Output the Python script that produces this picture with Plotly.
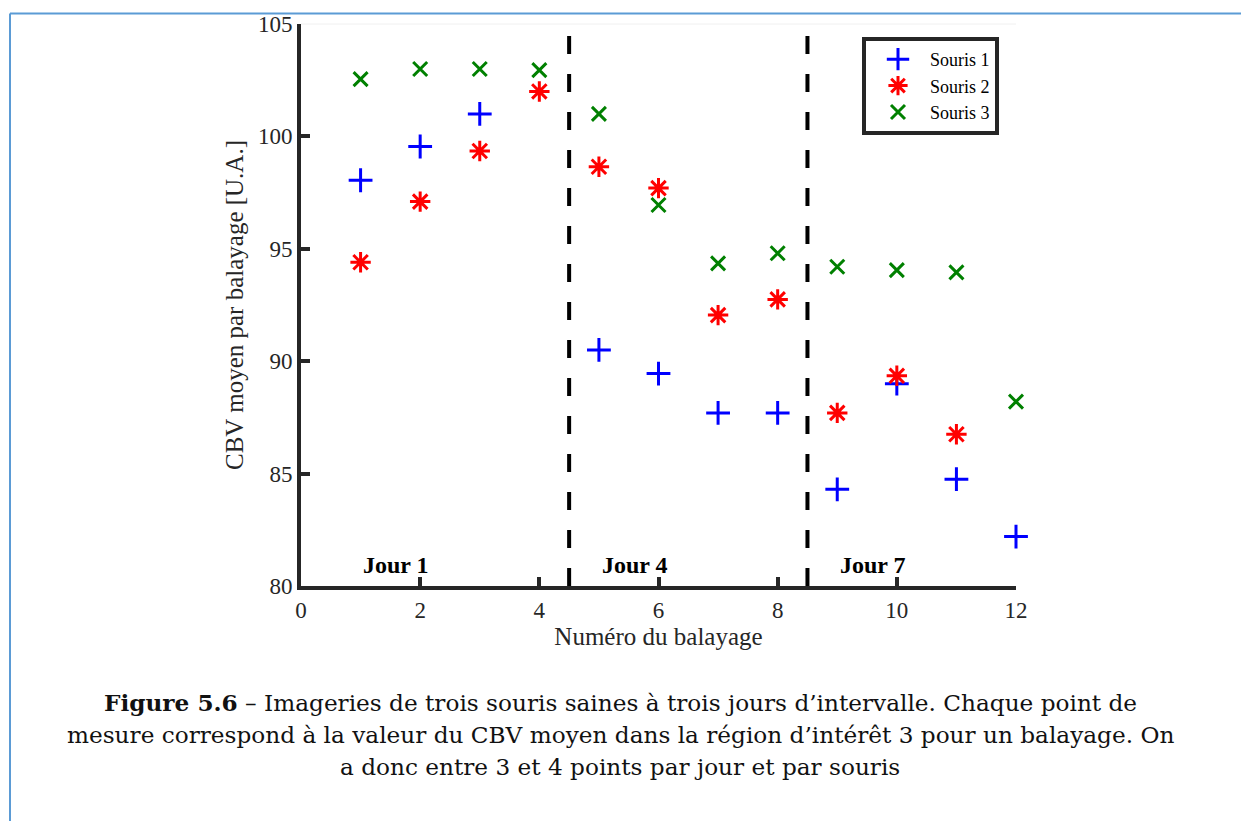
import plotly.graph_objects as go

# Scan numbers (balayages) and mean CBV per mouse
scans_1 = [1, 2, 3, 5, 6, 7, 8, 9, 10, 11, 12]
cbv_1 = [98.05, 99.55, 101.0, 90.5, 89.45, 87.7, 87.7, 84.3, 89.0, 84.75, 82.2]

scans_2 = [1, 2, 3, 4, 5, 6, 7, 8, 9, 10, 11]
cbv_2 = [94.4, 97.1, 99.35, 102.0, 98.65, 97.7, 92.05, 92.75, 87.7, 89.35, 86.75]

scans_3 = [1, 2, 3, 4, 5, 6, 7, 8, 9, 10, 11, 12]
cbv_3 = [102.55, 103.0, 103.0, 102.95, 101.0, 96.95, 94.35, 94.8, 94.2, 94.05, 93.95, 88.2]

day_bounds = [4.5, 8.5]
day_labels = ["Jour 1", "Jour 4", "Jour 7"]
day_label_x = [1.6, 5.6, 9.6]

x_ticks = [0, 2, 4, 6, 8, 10, 12]
y_ticks = [80, 85, 90, 95, 100, 105]

caption_lines = [
    "<b>Figure 5.6</b> – Imageries de trois souris saines à trois jours d’intervalle. Chaque point de",
    "mesure correspond à la valeur du CBV moyen dans la région d’intérêt 3 pour un balayage. On",
    "a donc entre 3 et 4 points par jour et par souris",
]

W, H = 1241, 821
L, R, T, B = 301, 1016, 22, 586  # plot area in pixels


def px(xp):
    return (xp - L) / (R - L)


def py(yp):
    return (B - yp) / (B - T)


serif = "Liberation Serif"
axis_col = "#262626"

fig = go.Figure()
fig.add_trace(go.Scatter(
    x=scans_1, y=cbv_1, mode="markers", name="Souris 1", cliponaxis=False,
    marker=dict(symbol="cross-thin", size=17, color="blue",
                line=dict(color="blue", width=3)),
))
fig.add_trace(go.Scatter(
    x=scans_2, y=cbv_2, mode="markers", name="Souris 2", cliponaxis=False,
    marker=dict(symbol="asterisk", size=17, color="red",
                line=dict(color="red", width=3)),
))
fig.add_trace(go.Scatter(
    x=scans_3, y=cbv_3, mode="markers", name="Souris 3", cliponaxis=False,
    marker=dict(symbol="x-thin", size=14, color="green",
                line=dict(color="green", width=3)),
))

shapes = []
for xb in day_bounds:
    shapes.append(dict(type="line", xref="x", yref="y", x0=xb, x1=xb, y0=80, y1=105,
                       line=dict(color="black", width=4, dash="18px,20px")))
# faint top edge of the axes box
shapes.append(dict(type="line", xref="paper", yref="paper", x0=0, x1=1, y0=1, y1=1,
                   line=dict(color="#f0f0f0", width=1), layer="below"))
# page frame
shapes.append(dict(type="line", xref="paper", yref="paper",
                   x0=px(10), x1=px(1260), y0=py(11.5), y1=py(11.5),
                   line=dict(color="#5b9bd5", width=2)))
shapes.append(dict(type="line", xref="paper", yref="paper",
                   x0=px(10), x1=px(10), y0=py(11.5), y1=py(840),
                   line=dict(color="#5b9bd5", width=2)))

annotations = []
for lab, xl in zip(day_labels, day_label_x):
    annotations.append(dict(x=xl, y=80.95, xref="x", yref="y", text=f"<b>{lab}</b>",
                            showarrow=False, font=dict(family=serif, size=24, color="black")))
for i, line in enumerate(caption_lines):
    annotations.append(dict(x=px(620), y=py(703 + 32 * i), xref="paper", yref="paper",
                            text=line, showarrow=False, xanchor="center", yanchor="middle",
                            font=dict(family="DejaVu Serif", size=23.2, color="#111111")))

fig.update_layout(
    width=W, height=H,
    margin=dict(l=L, r=W - R, t=T, b=H - B, pad=0),
    paper_bgcolor="white", plot_bgcolor="white",
    showlegend=True,
    legend=dict(x=px(862), y=py(35), xanchor="left", yanchor="top",
                bgcolor="white", bordercolor=axis_col, borderwidth=4,
                font=dict(family=serif, size=18, color="black"),
                itemsizing="trace", itemwidth=54, tracegroupgap=0),
    shapes=shapes, annotations=annotations,
    xaxis=dict(range=[0, 12], tickvals=x_ticks, showgrid=False, zeroline=False,
               showline=True, linewidth=4, linecolor=axis_col,
               ticks="inside", ticklen=9, tickwidth=4, tickcolor=axis_col,
               tickfont=dict(family=serif, size=23, color=axis_col),
               title=dict(text="Numéro du balayage", standoff=6,
                          font=dict(family=serif, size=25, color=axis_col))),
    yaxis=dict(range=[80, 105], tickvals=y_ticks, showgrid=False, zeroline=False,
               showline=True, linewidth=4, linecolor=axis_col,
               ticks="inside", ticklen=9, tickwidth=4, tickcolor=axis_col,
               tickfont=dict(family=serif, size=23, color=axis_col),
               title=dict(text="CBV moyen par balayage [U.A.]", standoff=8,
                          font=dict(family=serif, size=25, color=axis_col))),
)

fig.write_html("out.html")
